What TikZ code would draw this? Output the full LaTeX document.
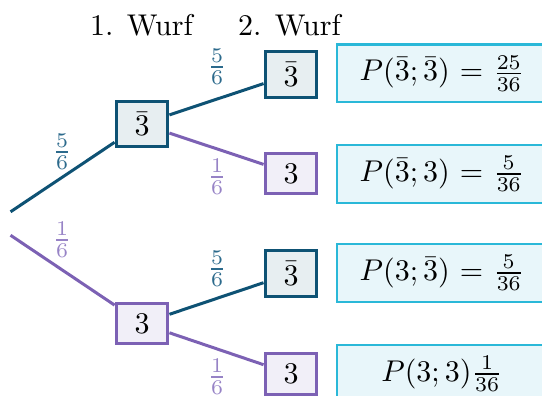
\documentclass[tikz,border=0pt]{standalone}
\usepackage{amsmath}
\definecolor{blueline}{HTML}{0E5274}
\definecolor{bluefill}{HTML}{E7EEF1}
\definecolor{bluelabel}{HTML}{2C6A8C}
\definecolor{purpline}{HTML}{7C61B4}
\definecolor{purpfill}{HTML}{F1EFF8}
\definecolor{purplabel}{HTML}{9783C6}
\definecolor{resline}{HTML}{2AB8D8}
\definecolor{resfill}{HTML}{E8F6FA}
\tikzset{
  x=0.3333pt, y=-0.3333pt,
  outcome/.style={draw, line width=1pt, minimum width=17.3pt, inner xsep=2pt, inner ysep=3.6pt},
  notthree/.style={outcome, draw=blueline, fill=bluefill},
  three/.style={outcome, draw=purpline, fill=purpfill},
  blueedge/.style={draw=blueline, line width=1pt},
  purpedge/.style={draw=purpline, line width=1pt},
  bluefrac/.style={text=bluelabel, inner sep=0pt},
  purpfrac/.style={text=purplabel, inner sep=0pt},
  result/.style={draw=resline, fill=resfill, line width=0.7pt, minimum width=70pt, minimum height=19.3pt, inner sep=0pt},
  heading/.style={anchor=base, inner sep=0pt}
}
\begin{document}
\begin{tikzpicture}
\useasboundingbox (0,0) rectangle (542,396);
\clip (0,0) rectangle (542,396);

% headings
\node[heading] (h1) at (141.5,36) {1. Wurf};
\node[heading] (h2) at (289.5,36) {2. Wurf};

% root (invisible)
\node[minimum width=11.3pt, minimum height=10pt, inner sep=0pt] (root) at (-7,223.5) {};

% first throw
\node[notthree] (a) at (142,124) {$\bar{3}$};
\node[three] (b) at (142,323.5) {$3$};

% second throw
\node[notthree] (aa) at (291,74.5) {$\bar{3}$};
\node[three] (ab) at (291,173.5) {$3$};
\node[notthree] (ba) at (291,273.5) {$\bar{3}$};
\node[three] (bb) at (291,374) {$3$};

% branches
\draw[blueedge] (root) -- (a);
\draw[purpedge] (root) -- (b);
\draw[blueedge] (a) -- (aa);
\draw[purpedge] (a) -- (ab);
\draw[blueedge] (b) -- (ba);
\draw[purpedge] (b) -- (bb);

% branch probabilities
\node[bluefrac] (p1) at (62,152) {$\frac{5}{6}$};
\node[purpfrac] (p2) at (62,240) {$\frac{1}{6}$};
\node[bluefrac] (p3) at (217,67) {$\frac{5}{6}$};
\node[purpfrac] (p4) at (217,177) {$\frac{1}{6}$};
\node[bluefrac] (p5) at (217,269) {$\frac{5}{6}$};
\node[purpfrac] (p6) at (217,377) {$\frac{1}{6}$};

% path probabilities
\node[result] (r1) at (442,73.5) {$P(\bar{3};\bar{3})$ = $\frac{25}{36}$};
\node[result] (r2) at (442,174) {$P(\bar{3};3)$ = $\frac{5}{36}$};
\node[result] (r3) at (442,273) {$P(3;\bar{3})$ = $\frac{5}{36}$};
\node[result] (r4) at (442,374) {$P(3;3)\frac{1}{36}$};
\end{tikzpicture}
\end{document}
